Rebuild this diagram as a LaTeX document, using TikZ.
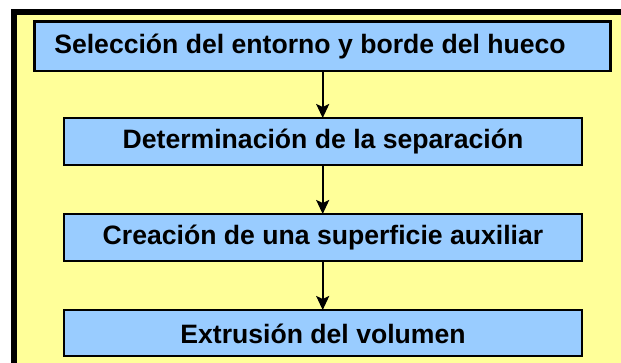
\documentclass[tikz,border=0pt]{standalone}
\usepackage{fontspec}
\setmainfont{Liberation Sans}
\usetikzlibrary{arrows.meta}
\definecolor{bgyellow}{RGB}{255,255,153}
\definecolor{boxblue}{RGB}{153,204,255}
\tikzset{
  stepbox/.style={draw=black, line width=2.6pt, fill=boxblue, inner sep=0pt},
  boxlabel/.style={font=\fontsize{26.6}{30}\selectfont\bfseries, text=black},
  flow/.style={draw=black, line width=2pt, -{Stealth[length=14pt, width=13pt, inset=3pt]}}
}
\begin{document}
\begin{tikzpicture}[x=1pt, y=-1pt]
\useasboundingbox (0,0) rectangle (621,363);
\clip (0,0) rectangle (621,363);
\fill[white] (0,0) rectangle (621,363);
% outer frame
\draw[line width=6pt, fill=bgyellow] (14,12) rectangle (660,400);
% boxes
\draw[stepbox] (34.5,21.7) rectangle (610.5,71);
\node[boxlabel] (t1) at (310,47) {Selección del entorno y borde del hueco};
\draw[stepbox] (64,118) rectangle (582,165);
\node[boxlabel] (t2) at (323,142) {Determinación de la separación};
\draw[stepbox] (64,214) rectangle (582,261);
\node[boxlabel] (t3) at (323,238) {Creación de una superficie auxiliar};
\draw[stepbox] (64,310) rectangle (582,356);
\node[boxlabel] (t4) at (323,333.5) {Extrusión del volumen};
% connectors
\coordinate (a1s) at (322.7,71);
\coordinate (a1e) at (322.7,118);
\coordinate (a2s) at (322.7,165);
\coordinate (a2e) at (322.7,214);
\coordinate (a3s) at (322.7,261);
\coordinate (a3e) at (322.7,310);
\draw[flow] (a1s) -- (a1e);
\draw[flow] (a2s) -- (a2e);
\draw[flow] (a3s) -- (a3e);
\end{tikzpicture}
\end{document}
